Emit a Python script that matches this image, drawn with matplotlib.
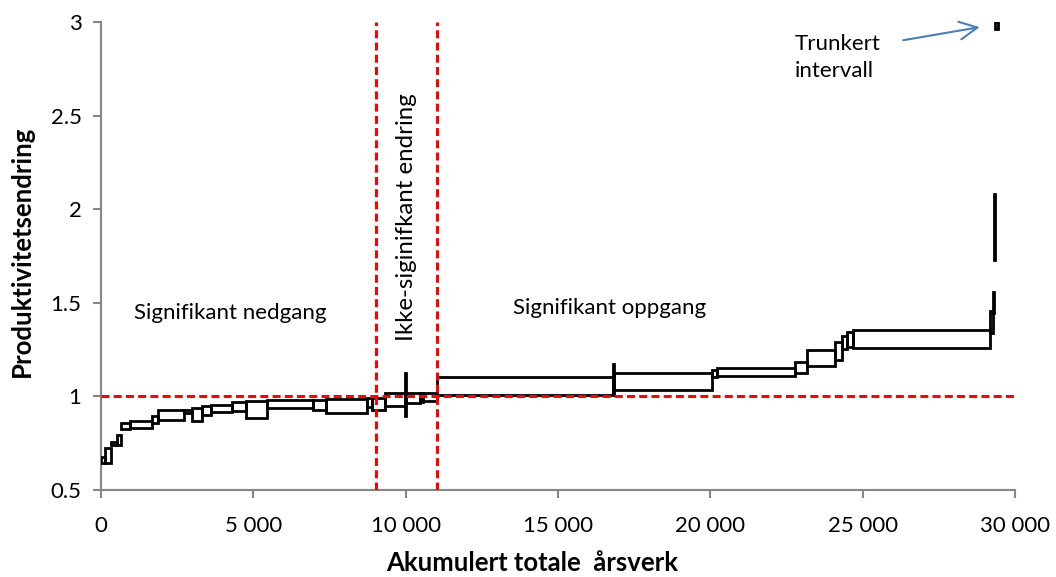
import numpy as np
import matplotlib
matplotlib.use("Agg")
import matplotlib.pyplot as plt

plt.rcParams['font.family'] = ['Lato', 'DejaVu Sans']

# enheter sortert etter produktivitetsendring: årsverk (bredde), nedre og øvre grense
arsverk = [130, 200, 190, 140, 290, 730, 180, 880, 240, 340,
           290, 680, 460, 690, 1530, 400, 1350, 160, 440, 650,
           40, 460, 90, 480, 5760, 30, 3210, 190, 2550, 380,
           940, 210, 180, 200, 4480, 120, 30, 30, 80]
nedre = [0.645, 0.646, 0.740, 0.740, 0.826, 0.833, 0.858, 0.876, 0.911, 0.870,
         0.901, 0.918, 0.922, 0.883, 0.936, 0.927, 0.910, 0.945, 0.927, 0.949,
         0.895, 0.963, 0.970, 0.975, 1.007, 1.007, 1.034, 1.102, 1.111, 1.127,
         1.164, 1.194, 1.252, 1.262, 1.257, 1.337, 1.444, 1.729, 2.965]
ovre = [0.675, 0.724, 0.758, 0.794, 0.856, 0.868, 0.895, 0.926, 0.927, 0.936,
        0.949, 0.954, 0.972, 0.977, 0.981, 0.981, 0.984, 0.992, 0.992, 1.020,
        1.123, 1.020, 1.018, 1.020, 1.102, 1.173, 1.123, 1.141, 1.150, 1.185,
        1.248, 1.289, 1.323, 1.345, 1.355, 1.458, 1.559, 2.081, 3.0]

grenser = [9030, 11040]
x_ticks = [0, 5000, 10000, 15000, 20000, 25000, 30000]
x_labels = ['0', '5 000', '10 000', '15 000', '20 000', '25 000', '30 000']
y_ticks = [0.5, 1, 1.5, 2, 2.5, 3]
y_labels = ['0.5', '1', '1.5', '2', '2.5', '3']

arsverk = np.array(arsverk, dtype=float)
nedre = np.array(nedre)
ovre = np.array(ovre)
venstre = np.concatenate([[0], np.cumsum(arsverk)[:-1]])

fig = plt.figure(figsize=(10.56, 5.77), dpi=100)
ax = fig.add_axes([0.0956, 0.1508, 0.8656, 0.8111])

ax.bar(venstre, ovre - nedre, width=arsverk, bottom=nedre, align='edge',
       fill=False, edgecolor='black', linewidth=2.0, zorder=3)

ax.axhline(1, color='red', linewidth=2.2, dashes=(2.6, 1.4), zorder=4)
for g in grenser:
    ax.axvline(g, color='red', linewidth=2.2, dashes=(2.6, 1.4), zorder=4)

ax.set_xlim(0, 30000)
ax.set_ylim(0.5, 3)
ax.set_xticks(x_ticks)
ax.set_xticklabels(x_labels)
ax.set_yticks(y_ticks)
ax.set_yticklabels(y_labels)

for side in ['top', 'right']:
    ax.spines[side].set_visible(False)
for side in ['left', 'bottom']:
    ax.spines[side].set_color('#868686')
    ax.spines[side].set_linewidth(1.5)
ax.tick_params(axis='both', colors='#868686', length=6, width=1.5, labelsize=16,
               labelcolor='black', direction='out')
ax.tick_params(axis='x', pad=13)
ax.tick_params(axis='y', pad=8)

ax.set_xlabel('Akumulert totale  årsverk', fontsize=18.5, fontweight='bold')
ax.xaxis.set_label_coords(0.4716, -0.156)
ax.xaxis.label.set_va('center')
ax.set_ylabel('Produktivitetsendring', fontsize=18.5, fontweight='bold')
ax.yaxis.set_label_coords(-0.086, 0.51)
ax.yaxis.label.set_va('center')

ax.text(4250, 1.445, 'Signifikant nedgang', fontsize=16, ha='center', va='center')
ax.text(16700, 1.47, 'Signifikant oppgang', fontsize=16, ha='center', va='center')
ax.text(10040, 1.96, 'Ikke-siginifkant endring', fontsize=17.3, rotation=90,
        ha='center', va='center')
ax.text(22780, 2.81, 'Trunkert\nintervall', fontsize=16, ha='left', va='center',
        linespacing=1.45)
ax.annotate('', xy=(28930, 2.975), xytext=(26240, 2.9),
            arrowprops=dict(arrowstyle='->', color='#4a7ebb', lw=1.5,
                            mutation_scale=32))

fig.savefig('out.png', dpi=100)
